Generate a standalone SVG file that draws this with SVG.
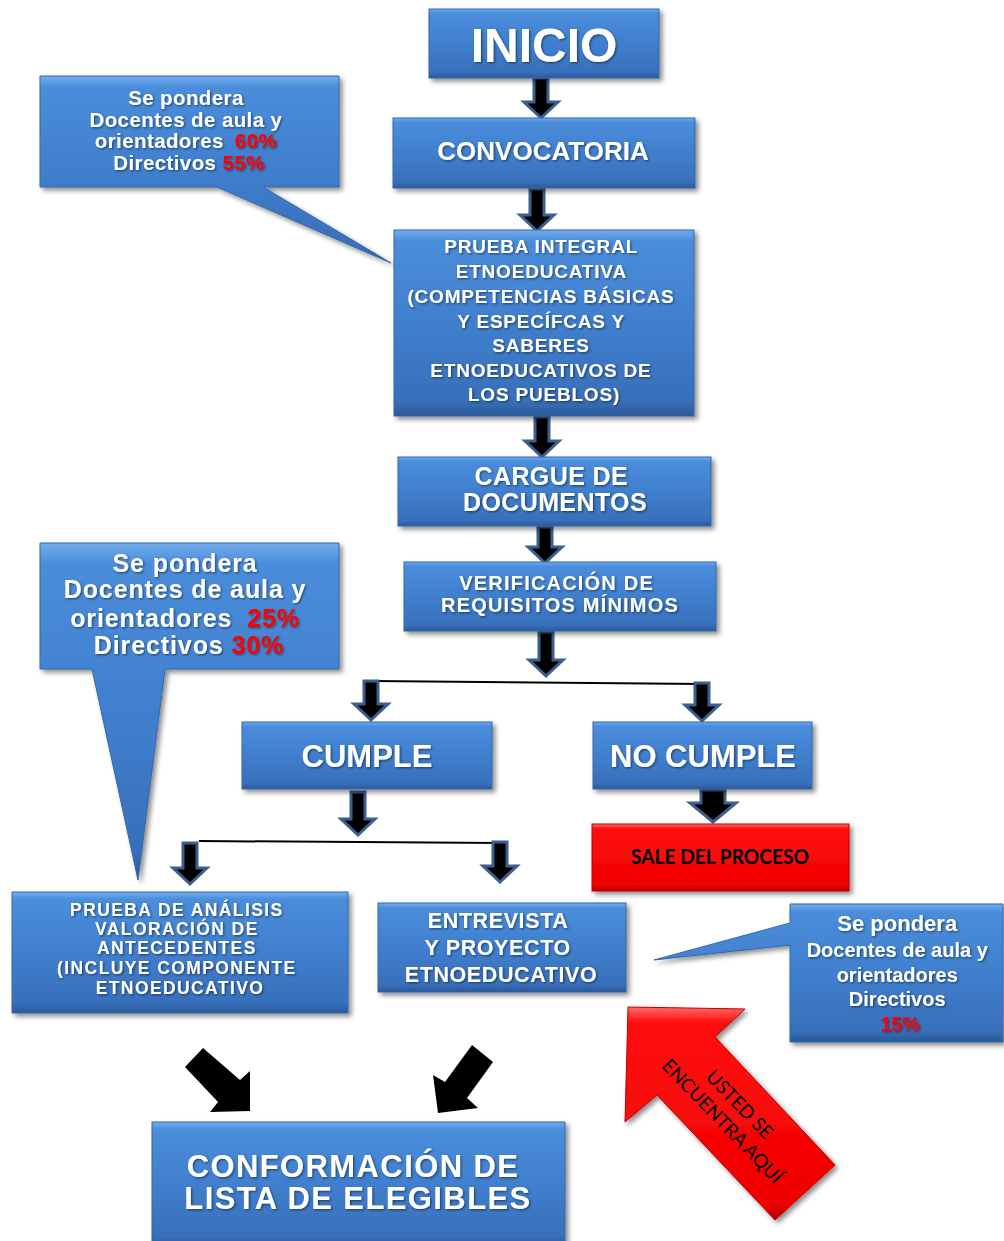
<svg xmlns="http://www.w3.org/2000/svg" width="1004" height="1241" viewBox="0 0 1004 1241">
<defs>
<linearGradient id="blue" x1="0" y1="0" x2="0" y2="1">
<stop offset="0" stop-color="#74adeb"/>
<stop offset="0.06" stop-color="#4a8ddb"/>
<stop offset="0.5" stop-color="#407fce"/>
<stop offset="0.92" stop-color="#386fba"/>
<stop offset="1" stop-color="#2a5896"/>
</linearGradient>
<linearGradient id="red" x1="0" y1="0" x2="0" y2="1">
<stop offset="0" stop-color="#ff6a6a"/>
<stop offset="0.07" stop-color="#ff1010"/>
<stop offset="0.92" stop-color="#f00000"/>
<stop offset="1" stop-color="#b00000"/>
</linearGradient>
<filter id="sh" x="-10%" y="-10%" width="125%" height="130%">
<feDropShadow dx="3" dy="3" stdDeviation="2.5" flood-color="#000" flood-opacity="0.45"/>
</filter>
<filter id="tsh" x="-5%" y="-10%" width="110%" height="130%">
<feDropShadow dx="1.2" dy="1.2" stdDeviation="0.8" flood-color="#000" flood-opacity="0.5"/>
</filter>
</defs>
<style>
.box { fill: url(#blue); stroke: #3567a8; stroke-width: 1; filter: url(#sh); }
.rbox { fill: url(#red); stroke: #c00000; stroke-width: 1; filter: url(#sh); }
.t { font-family: "Liberation Sans", Arial, sans-serif; font-weight: bold; fill: #ffffff; text-anchor: middle; filter: url(#tsh); }
.r { fill: #ff0000; }
.k { font-family: Lato, "Liberation Sans", sans-serif; fill: #000000; text-anchor: middle; }
.arr { fill: #000000; stroke: #3b5f8e; stroke-width: 3; stroke-linejoin: miter; }
.ln { fill: none; stroke: #000000; stroke-width: 2; }
.barr { fill: #000000; }
</style>
<rect width="1004" height="1241" fill="#ffffff"/>

<g id="connectors">
<path class="ln" d="M372,681 L703,684"/>
<path class="ln" d="M199,841 L500,843"/>
<path class="arr" d="M534,78 H548 V102 H558 L541,118 L524,102 H534 Z"/>
<path class="arr" d="M530,189 H544 V215 H554 L537,231 L520,215 H530 Z"/>
<path class="arr" d="M535,417 H549 V441 H559 L542,457 L525,441 H535 Z"/>
<path class="arr" d="M538,527 H552 V547 H562 L545,563 L528,547 H538 Z"/>
<path class="arr" d="M539,632 H553 V660 H563 L546,676 L529,660 H539 Z"/>
<path class="arr" d="M364,681 H378 V704 H388 L371,720 L354,704 H364 Z"/>
<path class="arr" d="M695,683 H709 V705 H719 L702,721 L685,705 H695 Z"/>
<path class="arr" d="M351,792 H365 V819 H375 L358,835 L341,819 H351 Z"/>
<path class="arr" d="M701,790 H725 V803 H736 L713,822 L690,803 H701 Z"/>
<path class="arr" d="M183,843 H197 V868 H207 L190,884 L173,868 H183 Z"/>
<path class="arr" d="M493,842 H507 V866 H517 L500,882 L483,866 H493 Z"/>
<path class="barr" d="M203,1048 L240,1080 L250,1071 L250,1111 L210,1112 L218,1102 L185,1067 Z"/>
<path class="barr" d="M472,1045 L445,1082 L433,1075 L438,1113 L478,1108 L467,1098 L493,1062 Z"/>
</g>

<g id="inicio">
<rect class="box" x="429" y="9" width="230" height="69"/>
<text class="t" x="544" y="62" font-size="48">INICIO</text>
</g>

<g id="callout-prueba">
<path class="box" d="M40,76 H339 V187 H263 L391,263 L217,187 H40 Z"/>
<text class="t" font-size="20.5" letter-spacing="0.4">
<tspan x="189" y="105">Se pondera</tspan>
<tspan x="189" y="127">Docentes de aula y</tspan>
<tspan x="189" y="148">orientadores <tspan class="r" dx="5">60%</tspan></tspan>
<tspan x="189" y="170">Directivos <tspan class="r">55%</tspan></tspan>
</text>
</g>

<g id="convocatoria">
<rect class="box" x="393" y="118" width="302" height="70"/>
<text class="t" x="543" y="160" font-size="26">CONVOCATORIA</text>
</g>

<g id="prueba-integral">
<rect class="box" x="394" y="230" width="300" height="186"/>
<text class="t" font-size="19" letter-spacing="0.8">
<tspan x="544" y="253">PRUEBA INTEGRAL</tspan>
<tspan x="544" y="278">ETNOEDUCATIVA</tspan>
<tspan x="544" y="303">(COMPETENCIAS BÁSICAS</tspan>
<tspan x="544" y="328">Y ESPECÍFCAS Y</tspan>
<tspan x="544" y="352">SABERES</tspan>
<tspan x="544" y="377">ETNOEDUCATIVOS DE</tspan>
<tspan x="544" y="401">LOS PUEBLOS)</tspan>
</text>
</g>

<g id="cargue">
<rect class="box" x="398" y="457" width="313" height="69"/>
<text class="t" font-size="25" letter-spacing="0.4">
<tspan x="555" y="485">CARGUE DE</tspan>
<tspan x="555" y="511">DOCUMENTOS</tspan>
</text>
</g>

<g id="verificacion">
<rect class="box" x="404" y="562" width="312" height="69"/>
<text class="t" font-size="20" letter-spacing="1.2">
<tspan x="560" y="590">VERIFICACIÓN DE</tspan>
<tspan x="560" y="612">REQUISITOS MÍNIMOS</tspan>
</text>
</g>

<g id="callout-analisis">
<path class="box" d="M40,543 H339 V669 H165 L138,880 L92,669 H40 Z"/>
<text class="t" font-size="25" letter-spacing="0.9">
<tspan x="189" y="572">Se pondera</tspan>
<tspan x="189" y="598">Docentes de aula y</tspan>
<tspan x="189" y="627">orientadores <tspan class="r" dx="7">25%</tspan></tspan>
<tspan x="189" y="654">Directivos <tspan class="r">30%</tspan></tspan>
</text>
</g>

<g id="cumple">
<rect class="box" x="242" y="722" width="250" height="67"/>
<text class="t" x="367" y="767" font-size="31">CUMPLE</text>
</g>

<g id="no-cumple">
<rect class="box" x="593" y="722" width="219" height="67"/>
<text class="t" x="703" y="767" font-size="31">NO CUMPLE</text>
</g>

<g id="sale">
<rect class="rbox" x="592" y="824" width="257" height="67"/>
<text class="k" x="720" y="864" font-size="20" font-weight="bold" textLength="178" lengthAdjust="spacingAndGlyphs">SALE DEL PROCESO</text>
</g>

<g id="prueba-analisis">
<rect class="box" x="12" y="892" width="336" height="121"/>
<text class="t" font-size="17.5" letter-spacing="1.4">
<tspan x="180" y="916">PRUEBA DE ANÁLISIS</tspan>
<tspan x="180" y="935">VALORACIÓN DE</tspan>
<tspan x="180" y="954">ANTECEDENTES</tspan>
<tspan x="180" y="974">(INCLUYE COMPONENTE</tspan>
<tspan x="180" y="994">ETNOEDUCATIVO</tspan>
</text>
</g>

<g id="entrevista">
<rect class="box" x="378" y="903" width="248" height="89"/>
<text class="t" font-size="21.5" letter-spacing="0.6">
<tspan x="501" y="928">ENTREVISTA</tspan>
<tspan x="501" y="955">Y PROYECTO</tspan>
<tspan x="501" y="982">ETNOEDUCATIVO</tspan>
</text>
</g>

<g id="callout-entrevista">
<path class="box" d="M790,904 H1003 V1042 H790 V945 L654,960 L790,923 Z"/>
<text class="t" font-size="20">
<tspan x="900" y="931" font-size="22">Se pondera</tspan>
<tspan x="900" y="957">Docentes de aula y</tspan>
<tspan x="900" y="982">orientadores</tspan>
<tspan x="900" y="1006">Directivos</tspan>
<tspan x="900" y="1031" class="r" font-size="19.5">15%</tspan>
</text>
</g>

<g id="usted-aqui">
<path class="rbox" d="M628,1007 L745,1009 L715,1037 L835,1165 L775,1220 L657,1095 L625,1122 Z"/>
<g transform="translate(731,1113) rotate(46)">
<text class="k" x="0" y="-5.5" font-size="19">USTED SE</text>
<text class="k" x="0" y="18.5" font-size="19">ENCUENTRA AQUÍ</text>
</g>
</g>

<g id="conformacion">
<rect class="box" x="152" y="1122" width="413" height="125"/>
<text class="t" font-size="31" letter-spacing="1.4">
<tspan x="358" y="1177">CONFORMACIÓN DE</tspan>
<tspan x="358" y="1209">LISTA DE ELEGIBLES</tspan>
</text>
</g>
</svg>
